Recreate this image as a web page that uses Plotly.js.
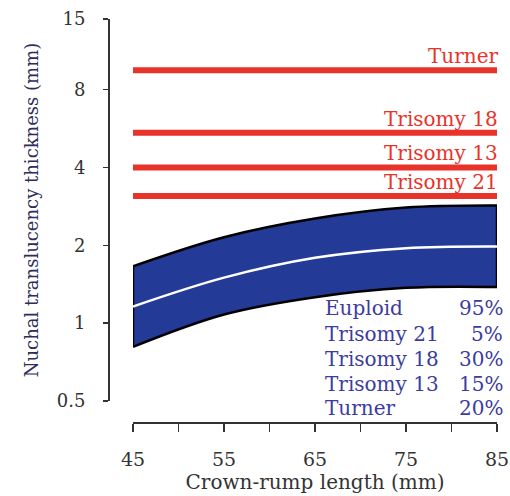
<!DOCTYPE html>
<html><head><meta charset="utf-8">
<script src="https://cdn.plot.ly/plotly-3.0.1.min.js"></script>
<style>body{margin:0;background:#fff}</style></head>
<body><div id="chart" style="width:510px;height:496px"></div>
<script>
const crl = [45, 55, 65, 75, 85];
const upper95 = [1.66, 2.15, 2.54, 2.80, 2.85];
const median = [1.16, 1.50, 1.79, 1.95, 1.98];
const lower5 = [0.81, 1.08, 1.26, 1.37, 1.38];
const cutoffNames = ['Turner', 'Trisomy 18', 'Trisomy 13', 'Trisomy 21'];
const cutoffValues = [9.5, 5.45, 4.0, 3.1];
const legendNames = ['Euploid', 'Trisomy 21', 'Trisomy 18', 'Trisomy 13', 'Turner'];
const legendPct = ['95%', '5%', '30%', '15%', '20%'];
const xTickVals = [45, 50, 55, 60, 65, 70, 75, 80, 85];
const xTickText = ['45', '', '55', '', '65', '', '75', '', '85'];
const yTickVals = [0.5, 1, 2, 4, 8, 15];
const yTickText = ['0.5', '1', '2', '4', '8', '15'];

const RED = '#e8332a';
const BLUE_FILL = '#243a97';
const TEXT_BLUE = '#3c3ca0';
const SERIF = 'DejaVu Serif, serif';
const xMin = crl[0], xMax = crl[crl.length - 1];
const last = crl.length - 1;

const traces = [];
traces.push({x: crl, y: lower5, mode: 'lines', line: {color: '#000', width: 2.5, shape: 'spline'}, hoverinfo: 'skip'});
traces.push({x: crl, y: upper95, mode: 'lines', fill: 'tonexty', fillcolor: BLUE_FILL,
  line: {color: '#000', width: 2.5, shape: 'spline'}, hoverinfo: 'skip'});
traces.push({x: [crl[0], crl[0]], y: [lower5[0], upper95[0]], mode: 'lines', line: {color: '#000', width: 2.5}, hoverinfo: 'skip'});
traces.push({x: [crl[last], crl[last]], y: [lower5[last], upper95[last]], mode: 'lines', line: {color: '#000', width: 2.5}, hoverinfo: 'skip'});
traces.push({x: crl, y: median, mode: 'lines', line: {color: '#fff', width: 2.5, shape: 'spline'}, hoverinfo: 'skip'});
cutoffValues.forEach(v => {
  traces.push({x: [xMin, xMax], y: [v, v], mode: 'lines', line: {color: RED, width: 6}, hoverinfo: 'skip'});
});

const annotations = [];
cutoffNames.forEach((n, i) => {
  annotations.push({x: xMax, y: Math.log10(cutoffValues[i]), xref: 'x', yref: 'y', text: n,
    showarrow: false, xanchor: 'right', yanchor: 'bottom', yshift: 0, xshift: 3,
    font: {family: SERIF, size: 20, color: RED}});
});
const rowY = [0.283, 0.218, 0.156, 0.094, 0.035];
legendNames.forEach((n, i) => {
  annotations.push({x: 0.553, y: rowY[i], xref: 'paper', yref: 'paper', text: n, showarrow: false,
    xanchor: 'left', yanchor: 'middle', font: {family: SERIF, size: 20, color: TEXT_BLUE}});
  annotations.push({x: 1.02, y: rowY[i], xref: 'paper', yref: 'paper', text: legendPct[i], showarrow: false,
    xanchor: 'right', yanchor: 'middle', font: {family: SERIF, size: 20, color: TEXT_BLUE}});
});

const layout = {
  width: 510, height: 496,
  margin: {l: 108, r: 13, t: 19, b: 74},
  paper_bgcolor: '#fff', plot_bgcolor: '#fff',
  showlegend: false,
  xaxis: {
    domain: [25 / 389, 1], range: [xMin, xMax], anchor: 'free', position: 0,
    tickvals: xTickVals, ticktext: xTickText, ticks: 'outside', ticklen: 8, tickwidth: 1.5, tickcolor: '#333',
    showline: true, linecolor: '#333', linewidth: 1.5, showgrid: false, zeroline: false,
    ticklabelstandoff: 12,
    tickfont: {family: SERIF, size: 19, color: '#333'},
    title: {text: 'Crown-rump length (mm)', font: {family: SERIF, size: 20, color: '#333'}, standoff: 2}
  },
  yaxis: {
    type: 'log', domain: [21 / 403, 1], range: [Math.log10(0.5), Math.log10(15)], anchor: 'free', position: 0,
    tickvals: yTickVals, ticktext: yTickText, ticks: 'outside', ticklen: 5, tickwidth: 1.5, tickcolor: '#333',
    showline: true, linecolor: '#333', linewidth: 1.5, showgrid: false, zeroline: false,
    ticklabelstandoff: 14,
    tickfont: {family: SERIF, size: 18, color: '#333'},
    title: {text: 'Nuchal translucency thickness (mm)', font: {family: SERIF, size: 18, color: '#2d2d5a'}, standoff: 12}
  },
  annotations: annotations
};
Plotly.newPlot('chart', traces, layout, {displayModeBar: false, staticPlot: true});
</script></body></html>
